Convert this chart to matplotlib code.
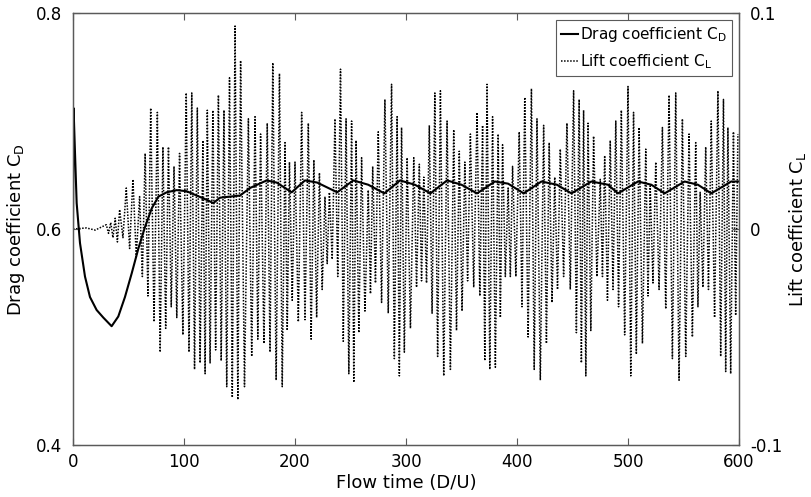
import numpy as np
import matplotlib
matplotlib.use("Agg")
import matplotlib.pyplot as plt

plt.rcParams['font.family'] = ['DejaVu Sans']
plt.rcParams['axes.unicode_minus'] = False
plt.rcParams['mathtext.default'] = 'regular'

# Drag coefficient history (time in D/U, C_D)
drag_t = [0.0, 0.5, 1.5, 3.3, 6.3, 10.8, 15.3, 21.3, 27.3, 34.8, 40.8, 46.8,
          52.9, 58.9, 64.9, 70.9, 76.9, 84.4, 93.4, 102.4, 111.4, 120.5,
          126.4, 132.4, 141.4, 150.5, 159.5, 174.5, 183.5, 197.0, 209.0,
          220.0, 238.0, 252.5, 266.0, 280.5, 294.6, 308.0, 322.0, 337.0,
          350.0, 364.0, 380.0, 392.0, 406.0, 422.0, 436.0, 449.0, 467.0,
          482.0, 491.0, 509.0, 521.0, 533.0, 551.0, 563.0, 575.0, 593.0, 600.0]
drag_cd = [0.600, 0.712, 0.680, 0.624, 0.587, 0.556, 0.537, 0.525, 0.518, 0.510,
           0.519, 0.537, 0.559, 0.582, 0.602, 0.619, 0.630, 0.634, 0.636, 0.635,
           0.631, 0.627, 0.624, 0.629, 0.630, 0.631, 0.638, 0.645, 0.643, 0.634,
           0.645, 0.643, 0.634, 0.645, 0.641, 0.633, 0.645, 0.641, 0.633, 0.645,
           0.641, 0.633, 0.644, 0.642, 0.633, 0.644, 0.641, 0.633, 0.644,
           0.641, 0.633, 0.644, 0.641, 0.633, 0.644, 0.641, 0.633, 0.644, 0.644]

# Lift coefficient: quiet start, then one (peak, trough) pair per shedding cycle
lift_start_t = [0.0, 12.0, 20.0, 26.0]
lift_start_v = [0.0, 0.0005, -0.0005, 0.001]
cycle_t = [30, 34, 38, 42, 48, 54, 60, 65, 70, 76, 81, 86, 91, 96, 102, 107,
           112, 117, 121, 126, 131, 136, 141, 146, 151, 158, 164, 169, 175,
           180, 186, 191, 195, 200, 206, 212, 217, 222, 227, 231, 236, 241,
           246, 251, 255, 260, 266, 270, 275, 281, 287, 292, 296, 301, 307,
           312, 316, 321, 326, 331, 337, 343, 348, 353, 358, 364, 369, 373,
           378, 383, 387, 392, 396, 402, 407, 413, 418, 424, 429, 434, 439,
           445, 451, 456, 460, 464, 469, 475, 479, 484, 489, 494, 500, 505,
           510, 516, 520, 525, 531, 537, 543, 549, 555, 561, 565, 570, 575,
           581, 586, 590, 595, 599]
cycle_peak = [0.002, 0.003, 0.005, 0.009, 0.019, 0.023, 0.015, 0.035, 0.056,
              0.054, 0.038, 0.038, 0.029, 0.035, 0.063, 0.063, 0.056, 0.041,
              0.055, 0.055, 0.062, 0.055, 0.070, 0.094, 0.078, 0.051, 0.052,
              0.044, 0.049, 0.077, 0.072, 0.040, 0.031, 0.031, 0.054, 0.049,
              0.032, 0.026, 0.015, 0.017, 0.051, 0.074, 0.051, 0.050, 0.041,
              0.033, 0.018, 0.029, 0.045, 0.060, 0.067, 0.052, 0.047, 0.033,
              0.033, 0.030, 0.024, 0.048, 0.063, 0.064, 0.050, 0.046, 0.036,
              0.031, 0.044, 0.054, 0.048, 0.067, 0.052, 0.044, 0.039, 0.019,
              0.029, 0.045, 0.061, 0.065, 0.051, 0.048, 0.040, 0.024, 0.037,
              0.049, 0.064, 0.060, 0.055, 0.049, 0.043, 0.023, 0.034, 0.041,
              0.050, 0.055, 0.066, 0.054, 0.047, 0.037, 0.020, 0.031, 0.047,
              0.062, 0.063, 0.051, 0.044, 0.040, 0.017, 0.038, 0.050, 0.064,
              0.060, 0.047, 0.045, 0.044]
cycle_trough = [-0.002, -0.004, -0.006, -0.004, -0.009, -0.013, -0.022, -0.031,
                -0.043, -0.057, -0.046, -0.036, -0.041, -0.049, -0.057, -0.065,
                -0.062, -0.067, -0.062, -0.056, -0.061, -0.073, -0.078, -0.079,
                -0.073, -0.059, -0.051, -0.053, -0.057, -0.070, -0.073, -0.047,
                -0.033, -0.043, -0.042, -0.051, -0.041, -0.028, -0.016, -0.014,
                -0.022, -0.052, -0.067, -0.071, -0.048, -0.038, -0.030, -0.025,
                -0.034, -0.039, -0.060, -0.068, -0.057, -0.046, -0.027, -0.024,
                -0.025, -0.039, -0.059, -0.068, -0.065, -0.047, -0.038, -0.024,
                -0.027, -0.031, -0.061, -0.065, -0.064, -0.041, -0.022, -0.022,
                -0.022, -0.036, -0.050, -0.065, -0.070, -0.053, -0.034, -0.028,
                -0.022, -0.028, -0.048, -0.062, -0.068, -0.047, -0.022, -0.022,
                -0.033, -0.028, -0.036, -0.049, -0.068, -0.058, -0.053, -0.031,
                -0.025, -0.028, -0.037, -0.060, -0.070, -0.059, -0.050, -0.036,
                -0.027, -0.028, -0.041, -0.059, -0.066, -0.067, -0.040, -0.022]

# Each trough sits half-way to the next peak
ct = np.array(cycle_t, dtype=float)
gaps = np.diff(np.append(ct, 600.0 + (ct[-1] - ct[-2]) - 1.0))
trough_t = ct + gaps / 2.0
lift_t = list(lift_start_t)
lift_v = list(lift_start_v)
for tp, p, tt, tr in zip(ct, cycle_peak, trough_t, cycle_trough):
    lift_t += [tp, tt]
    lift_v += [p, tr]
lift_t = np.array(lift_t)
lift_v = np.array(lift_v)
keep = lift_t <= 600.0
lift_t, lift_v = lift_t[keep], lift_v[keep]

x_ticks = [0, 100, 200, 300, 400, 500, 600]
cd_ticks = [0.4, 0.6, 0.8]
cd_ticklabels = ['0.4', '0.6', '0.8']
cl_ticks = [-0.1, 0.0, 0.1]
cl_ticklabels = ['-0.1', '0', '0.1']

fig = plt.figure(figsize=(8.12, 4.97), dpi=100)
ax = fig.add_axes([0.0899, 0.1046, 0.8202, 0.8692])
ax2 = ax.twinx()

spine_col = '#5a5a5a'

cl_line, = ax2.plot(lift_t, lift_v, color='black', lw=1.1,
                    linestyle=(0, (1.0, 1.0)), label=r'Lift coefficient C$_\mathrm{L}$')
cd_line, = ax.plot(drag_t, drag_cd, color='black', lw=1.5,
                   label=r'Drag coefficient C$_\mathrm{D}$')

ax.set_zorder(ax2.get_zorder() + 1)
ax.patch.set_visible(False)

ax.set_xlim(0, 600)
ax.set_ylim(0.4, 0.8)
ax2.set_ylim(-0.1, 0.1)
ax.set_xticks(x_ticks)
ax.set_yticks(cd_ticks)
ax.set_yticklabels(cd_ticklabels)
ax2.set_yticks(cl_ticks)
ax2.set_yticklabels(cl_ticklabels)

for a in (ax, ax2):
    for s in a.spines.values():
        s.set_color(spine_col)
        s.set_linewidth(0.9)
ax.tick_params(axis='x', direction='in', top=True, length=5, width=0.8,
               color=spine_col, labelsize=12, pad=6)
ax.tick_params(axis='y', direction='in', length=5, width=0.8,
               color=spine_col, labelsize=12, pad=8)
ax2.tick_params(axis='y', direction='in', length=5, width=0.8,
                color=spine_col, labelsize=12, pad=8)

ax.set_xlabel('Flow time (D/U)', fontsize=13, labelpad=2)
ax.set_ylabel(r'Drag coefficient C$_\mathrm{D}$', fontsize=13, labelpad=6)
ax2.set_ylabel(r'Lift coefficient C$_\mathrm{L}$', fontsize=13, labelpad=3)

leg = ax.legend(handles=[cd_line, cl_line], loc='upper right', fontsize=11,
                handlelength=1.1, handletextpad=0.15, borderpad=0.35,
                labelspacing=0.5, borderaxespad=0.45, fancybox=False,
                framealpha=1.0, edgecolor=spine_col)
leg.get_frame().set_linewidth(0.8)

fig.savefig('out.png', dpi=100)
